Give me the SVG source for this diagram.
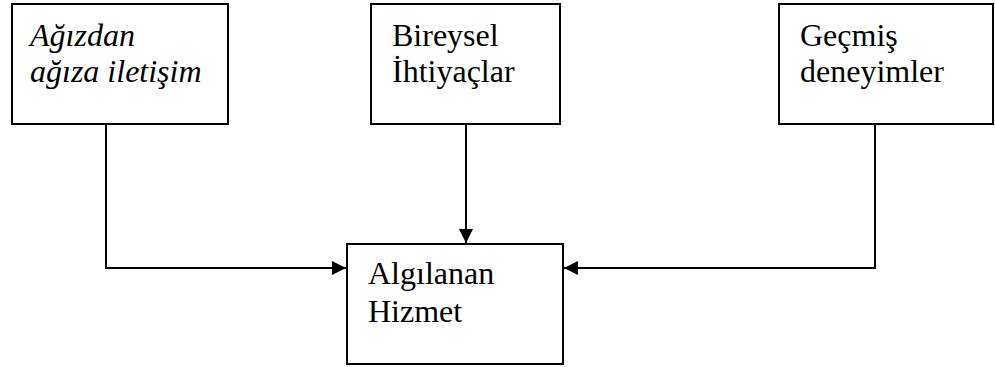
<svg xmlns="http://www.w3.org/2000/svg" width="995" height="367" viewBox="0 0 995 367">
  <style>
    .box { fill: #ffffff; stroke: #000000; stroke-width: 2; }
    .label { font-family: "Liberation Serif", "Times New Roman", serif; font-size: 32px; fill: #000000; }
    .italic { font-style: italic; }
    .wire { fill: none; stroke: #000000; stroke-width: 2; }
  </style>
  <defs>
    <marker id="arrow" viewBox="0 0 10 10" refX="10" refY="5" markerWidth="7" markerHeight="7" orient="auto" markerUnits="strokeWidth">
      <path d="M0,0 L10,5 L0,10 Z" fill="#000000"/>
    </marker>
  </defs>
  <rect width="995" height="367" fill="#ffffff"/>

  <g id="node-agizdan">
    <rect class="box" x="12" y="4" width="216" height="120"/>
    <text class="label italic" x="30" y="46">Ağızdan</text>
    <text class="label italic" x="30" y="82">ağıza iletişim</text>
  </g>

  <g id="node-bireysel">
    <rect class="box" x="371" y="4" width="189" height="120"/>
    <text class="label" x="392" y="46">Bireysel</text>
    <text class="label" x="392" y="82">İhtiyaçlar</text>
  </g>

  <g id="node-gecmis">
    <rect class="box" x="779" y="4" width="214" height="120"/>
    <text class="label" x="800" y="46">Geçmiş</text>
    <text class="label" x="800" y="82">deneyimler</text>
  </g>

  <g id="node-algilanan">
    <rect class="box" x="347" y="244" width="216" height="120"/>
    <text class="label" x="368" y="284">Algılanan</text>
    <text class="label" x="368" y="322">Hizmet</text>
  </g>

  <g id="connectors">
    <polyline class="wire" points="106,124 106,268 346,268" marker-end="url(#arrow)"/>
    <line class="wire" x1="466" y1="124" x2="466" y2="243" marker-end="url(#arrow)"/>
    <polyline class="wire" points="875,124 875,268 564,268" marker-end="url(#arrow)"/>
  </g>
</svg>
